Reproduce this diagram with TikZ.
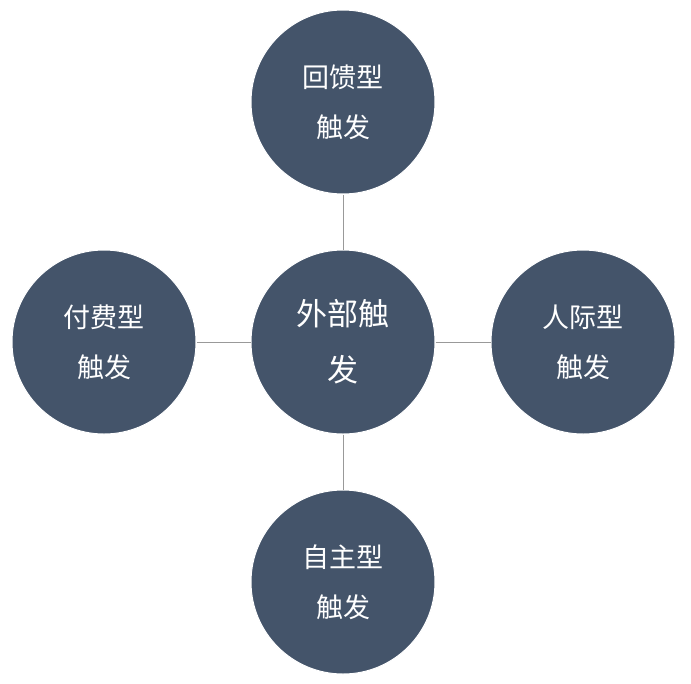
\documentclass[tikz,border=0pt]{standalone}
\usepackage{fontspec}
\newfontfamily\cjk{Noto Sans CJK SC}
\definecolor{cbg}{HTML}{44546A}
\begin{document}
\begin{tikzpicture}[x=1pt,y=-1pt,
  circ/.style={circle,fill=cbg,draw=white,line width=1pt,minimum size=184pt,inner sep=0pt,text=white,align=center,font=\cjk\fontsize{27}{50}\selectfont},
  link/.style={draw=gray!80,line width=0.8pt}]
\useasboundingbox (0,0) rectangle (691,683);
\node[circ,font=\cjk\fontsize{31}{56}\selectfont] (c) at (343,342) {外部触\\发};
\node[circ] (t) at (343,102) {回馈型\\触发};
\node[circ] (l) at (104,342) {付费型\\触发};
\node[circ] (r) at (583,342) {人际型\\触发};
\node[circ] (b) at (343,582) {自主型\\触发};
\draw[link] (c) -- (t);
\draw[link] (c) -- (l);
\draw[link] (c) -- (r);
\draw[link] (c) -- (b);
\end{tikzpicture}
\end{document}
